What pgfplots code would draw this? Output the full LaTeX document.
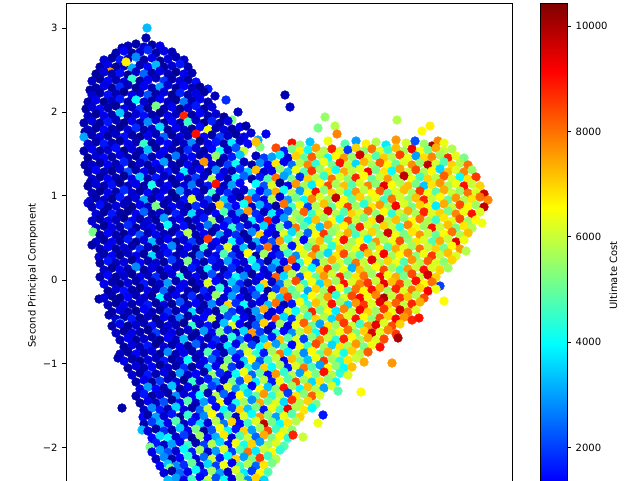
\documentclass[border=0pt]{standalone}
\usepackage{fontspec}
\setmainfont{DejaVu Sans}
\usepackage{pgfplots}
\pgfplotsset{compat=1.18}
\pgfplotsset{
  every tick label/.append style={font=\fontsize{7.2}{8.6}\selectfont},
  every axis label/.append style={font=\fontsize{7.2}{8.6}\selectfont},
}
\begin{document}
\begin{tikzpicture}
\begin{axis}[
  at={(0,0)}, anchor=south west,
  width=321.12pt, height=392.4pt, scale only axis,
  xmin=66, xmax=512, ymin=3, ymax=548, y dir=reverse,
  xtick=\empty,
  ytick={28.2,112,195.8,280,363.8,447.6},
  yticklabels={3,2,1,0,−1,−2},
  ytick pos=left,
  tick align=outside, major tick length=2.52pt,
  tick style={black, line width=0.58pt},
  axis line style={line width=0.58pt, black},
  ylabel={Second Principal Component},
  ylabel style={at={(axis description cs:0,0.5)}, anchor=center, yshift=23.8pt},
  colormap/jet,
  point meta min=0.97, point meta max=104.36,
  colorbar,
  colorbar/width=19.66pt,
  colorbar style={
    at={(parent axis.north east)}, anchor=north west, xshift=11.62pt,
    height=392.4pt,
    ytick={20,40,60,80,100}, yticklabels={2000,4000,6000,8000,10000},
    ytick pos=right,
    tick align=outside, major tick length=2.52pt,
    tick style={black, line width=0.58pt},
    axis line style={line width=0.58pt, black},
    ylabel={Ultimate Cost},
    ylabel style={at={(axis description cs:1,0.5)}, anchor=center, yshift=-33.1pt},
  },
  clip marker paths=true,
]
\addplot[scatter, only marks, mark=*, mark size=3.15pt, point meta=explicit,
  scatter/use mapped color={draw=mapped color, fill=mapped color},
  mark options={line width=0.3pt}]
  table[x=x, y=y, meta=c] {
x y c
147 28 33
146 38 6
122 48 6
128 46 7
136 44 5
144 47 10
152 45 4
160 46 12
116 53 6
124 51 14
132 53 4
140 52 9
148 50 18
156 53 5
164 51 11
172 52 7
104 60 9
112 58 4
120 60 16
128 59 7
136 57 28
144 60 5
152 58 12
160 61 3
168 59 10
176 57 6
184 60 8
100 67 5
108 65 12
116 67 3
124 66 8
132 68 31
140 65 6
148 67 14
156 65 33
164 67 4
172 66 9
180 64 16
188 67 5
126 62 67
110 72 76
96 74 4
104 72 10
112 74 6
120 73 15
128 75 3
136 72 8
144 74 24
152 73 5
160 71 11
168 74 7
176 72 3
184 74 13
192 73 6
92 81 8
100 79 3
108 81 14
116 80 6
124 82 9
132 79 45
140 81 4
148 80 12
156 78 7
164 81 19
172 79 5
180 81 10
188 80 4
196 82 15
96 88 5
104 86 11
112 88 4
120 87 18
128 85 7
136 88 3
144 86 13
152 88 6
160 87 30
168 85 9
176 88 4
184 86 14
192 88 7
200 87 3
208 89 16
90 90 4
92 95 9
100 93 4
108 95 15
116 94 6
124 92 3
132 95 12
140 93 7
148 95 22
156 94 5
164 92 10
172 95 3
180 93 17
188 95 6
196 94 11
204 92 4
88 102 6
96 100 12
104 102 3
112 101 8
120 99 16
128 102 5
136 100 40
144 102 9
152 101 4
160 99 14
168 102 7
176 100 3
184 102 26
192 101 6
200 99 12
208 102 5
226 100 18
215 96 7
86 109 4
92 107 9
100 109 14
108 108 5
116 106 3
124 109 11
132 107 7
140 109 18
148 108 4
156 106 52
164 109 6
172 107 13
180 109 3
188 108 9
196 106 16
204 109 5
212 107 10
88 116 7
96 114 3
104 116 12
112 115 6
120 113 34
128 116 4
136 114 9
144 116 15
152 115 5
160 113 3
168 116 11
176 114 7
184 116 88
192 115 4
200 113 14
208 116 6
216 114 9
224 117 3
232 120 52
238 112 8
84 123 5
92 121 10
100 123 4
108 122 16
116 120 7
124 123 3
132 121 12
140 123 6
148 122 28
156 120 9
164 123 4
172 121 14
180 123 5
188 122 45
196 120 8
204 123 3
212 121 17
220 123 6
228 121 11
88 130 8
96 128 4
104 130 13
112 129 6
120 127 3
128 130 10
136 128 18
144 130 5
152 129 9
160 127 36
168 130 4
176 128 12
184 130 7
192 129 3
200 127 15
208 130 64
216 128 6
224 130 10
232 129 4
240 127 13
246 126 5
251 133 9
85 132 5
84 137 31
92 135 6
100 137 11
108 136 4
116 134 8
124 137 15
132 135 5
140 137 3
148 136 12
156 134 7
164 137 24
172 135 4
180 137 10
188 136 6
196 134 90
204 137 14
212 135 5
220 137 20
228 136 8
236 134 4
244 137 12
285 95 6
290 107 8
258 140 30
266 134 12
292 143 90
260 147 52
88 144 9
96 142 5
104 144 16
112 143 7
120 141 3
128 144 12
136 142 6
144 144 45
152 143 4
160 141 10
168 144 14
176 142 5
184 144 8
192 143 28
200 141 3
208 144 11
216 142 16
224 144 6
232 143 38
240 141 9
248 144 14
256 142 72
300 145 55
310 142 34
318 128 52
325 117 55
335 126 58
337 134 78
328 141 64
345 144 48
356 141 30
366 144 67
376 142 58
386 145 38
397 120 58
396 140 76
406 143 61
415 141 22
422 131 66
430 126 67
432 146 100
438 141 78
424 144 55
444 143 64
84 151 6
92 149 12
100 151 4
108 150 9
116 148 15
124 151 3
132 149 10
140 151 6
148 150 33
156 148 4
164 151 13
172 149 7
180 151 3
188 150 18
196 148 9
204 151 5
212 149 14
220 151 40
228 150 8
236 148 22
244 151 60
276 148 84
284 151 16
292 149 52
300 151 67
308 150 41
316 148 75
324 151 58
332 149 88
340 151 62
348 150 20
356 148 70
364 151 54
372 149 80
380 151 63
388 150 46
396 148 72
404 151 57
412 149 93
420 151 66
428 150 52
436 148 74
444 151 60
452 149 58
88 158 3
96 156 9
104 158 14
112 157 5
120 155 11
128 158 7
136 156 4
144 158 19
152 157 6
160 155 12
168 158 3
176 156 26
184 158 8
192 157 14
200 155 5
208 158 10
216 156 55
224 158 7
232 157 16
240 155 34
256 156 7
264 158 20
272 157 30
280 155 38
288 158 9
296 156 70
304 158 50
312 157 82
320 155 59
328 158 40
336 156 66
344 158 76
352 157 55
360 155 96
368 158 62
376 156 48
384 158 71
392 157 58
400 155 85
408 158 64
416 156 30
424 158 69
432 157 78
440 155 56
448 158 88
456 156 63
464 158 52
85 165 5
92 165 8
100 163 4
108 165 12
116 164 6
124 162 17
132 165 3
140 163 9
148 165 5
156 164 14
164 162 30
172 165 7
180 163 4
188 165 12
196 164 6
204 162 76
212 165 10
220 163 4
228 165 20
236 164 41
244 162 8
252 165 5
260 163 28
268 165 14
276 164 68
284 162 12
292 165 25
300 163 58
308 165 78
316 164 44
324 162 64
332 165 52
340 163 90
348 165 60
356 164 36
364 162 73
372 165 57
380 163 82
388 165 66
396 164 50
404 162 62
412 165 77
420 163 55
428 165 98
436 164 61
444 162 48
452 165 70
460 163 58
468 165 80
88 172 5
96 170 14
104 172 7
112 171 3
120 169 10
128 172 22
136 170 6
144 172 12
152 171 4
160 169 9
168 172 16
176 170 5
184 172 38
192 171 8
200 169 13
208 172 4
216 170 28
224 172 10
232 171 6
240 169 18
248 172 35
256 170 72
264 172 9
272 171 12
280 169 55
288 172 33
296 170 64
304 172 48
312 171 86
320 169 56
328 172 68
336 170 42
344 172 74
352 171 59
360 169 63
368 172 92
376 170 52
384 172 68
392 171 40
400 169 75
408 172 60
416 170 84
424 172 57
432 171 66
440 169 36
448 172 72
456 170 62
464 172 78
472 170 55
92 179 9
100 177 4
108 179 13
116 178 6
124 176 3
132 179 11
140 177 34
148 179 5
156 178 16
164 176 8
172 179 4
180 177 12
188 179 6
196 178 20
204 176 9
212 179 58
220 177 14
228 179 5
236 178 38
244 176 24
252 179 4
260 177 16
268 179 48
276 178 80
284 176 30
292 179 52
300 177 18
308 179 70
316 178 58
324 176 45
332 179 80
340 177 62
348 179 54
356 178 88
364 176 66
372 179 50
380 177 60
388 179 76
396 178 55
404 176 98
412 179 64
420 177 46
428 179 70
436 178 58
444 176 82
452 179 61
460 177 40
468 179 68
476 177 86
90 183 6
88 186 4
96 184 10
104 186 6
112 185 15
120 183 3
128 186 8
136 184 12
144 186 5
152 185 42
160 183 7
168 186 14
176 184 4
184 186 10
192 185 26
200 183 6
208 186 16
216 184 90
224 186 8
232 185 30
240 183 14
256 184 40
264 186 22
272 185 62
280 183 3
288 186 12
296 184 76
304 186 56
312 185 38
320 183 66
328 186 84
336 184 57
344 186 72
352 185 48
360 183 62
368 186 78
376 184 54
384 186 94
392 185 66
400 183 58
408 186 72
416 184 52
424 186 34
432 185 68
440 183 76
448 186 57
456 184 64
464 186 90
472 184 60
480 186 70
92 193 7
100 191 3
108 193 12
116 192 5
124 190 18
132 193 9
140 191 4
148 193 14
156 192 6
164 190 11
172 193 3
180 191 28
188 193 8
196 192 13
204 190 5
212 193 45
220 191 10
228 193 18
236 192 9
244 190 9
252 193 36
260 191 14
268 193 28
276 192 74
284 190 41
292 193 58
300 191 30
308 193 64
316 192 90
324 190 54
332 193 70
340 191 60
348 193 44
356 192 76
364 190 59
372 193 66
380 191 82
388 193 50
396 192 62
404 190 72
412 193 56
420 191 86
428 193 64
436 192 48
444 190 74
452 193 60
460 191 55
468 193 80
476 192 62
484 194 96
90 201 12
96 198 5
104 200 9
112 199 3
120 197 16
128 200 6
136 198 10
144 200 31
152 199 4
160 197 13
168 200 7
176 198 3
184 200 15
192 199 62
200 197 8
208 200 20
216 198 4
224 200 34
232 199 12
240 197 5
248 200 84
256 198 20
264 200 12
272 199 58
280 197 10
288 200 30
296 198 52
304 200 40
312 199 78
320 197 62
328 200 56
336 198 98
344 200 66
352 199 50
360 197 70
368 200 58
376 198 64
384 200 46
392 199 80
400 197 61
408 200 54
416 198 72
424 200 88
432 199 60
440 197 66
448 200 50
456 198 76
464 200 58
472 199 68
480 197 80
488 200 78
88 203 9
92 207 6
100 205 15
108 207 4
116 206 10
124 204 7
132 207 3
140 205 12
148 207 8
156 206 52
164 204 5
172 207 14
180 205 9
188 207 4
196 206 18
204 204 11
212 207 6
220 205 70
228 207 25
236 206 14
244 204 41
252 207 8
260 205 32
268 207 16
276 206 4
284 204 80
292 207 46
300 205 64
308 207 20
316 206 58
324 204 72
332 207 50
340 205 64
348 207 86
356 206 56
364 204 44
372 207 68
380 205 76
388 207 57
396 206 92
404 204 62
412 207 52
420 205 70
428 207 64
436 206 38
444 204 74
452 207 60
460 205 84
468 207 66
476 205 56
484 207 98
96 214 10
104 212 4
112 214 16
120 213 6
128 211 3
136 214 12
144 212 24
152 214 5
160 213 9
168 211 4
176 214 17
184 212 7
192 214 36
200 213 10
208 211 5
216 214 14
224 212 48
232 214 9
240 213 30
248 211 76
256 214 18
264 212 7
272 214 38
280 213 15
288 211 24
296 214 56
304 212 82
312 214 45
320 213 62
328 211 94
336 214 58
344 212 48
352 214 70
360 213 62
368 211 80
376 214 54
384 212 66
392 214 44
400 213 60
408 211 74
416 214 57
424 212 88
432 214 62
440 213 70
448 211 52
456 214 78
464 212 64
472 214 90
480 212 62
92 221 9
100 219 5
108 221 12
116 220 7
124 218 3
132 221 14
140 219 5
148 221 10
156 220 4
164 218 30
172 221 8
180 219 12
188 221 3
196 220 9
204 218 16
212 221 55
220 219 6
228 221 20
236 220 12
244 218 6
252 221 38
260 219 16
268 221 90
276 220 10
284 218 30
292 221 60
300 219 52
308 221 38
316 220 72
324 218 56
332 221 66
340 219 42
348 221 84
356 220 60
364 218 52
372 221 68
380 219 100
388 221 58
396 220 72
404 218 54
412 221 66
420 219 80
428 221 58
436 220 46
444 218 68
452 221 62
460 219 84
468 221 56
476 220 66
482 223 64
96 228 8
104 226 3
112 228 11
120 227 6
128 225 18
136 228 4
144 226 9
152 228 13
160 227 5
168 225 40
176 228 7
184 226 15
192 228 4
200 227 10
208 225 26
216 228 8
224 226 14
232 228 45
240 227 20
248 225 9
256 228 10
264 226 36
272 228 14
280 227 52
288 225 18
296 228 80
304 226 48
312 228 62
320 227 34
328 225 76
336 228 58
344 226 66
352 228 50
360 227 88
368 225 62
376 228 54
384 226 70
392 228 60
400 227 44
408 225 78
416 228 64
424 226 56
432 228 90
440 227 60
448 225 72
456 228 52
464 226 68
472 228 58
93 232 52
100 235 4
108 233 14
116 235 6
124 234 3
132 232 10
140 235 22
148 233 5
156 235 12
164 234 7
172 232 4
180 235 16
188 233 58
196 235 6
204 234 13
212 232 4
220 235 30
228 233 10
236 235 18
244 234 4
252 232 28
260 235 70
268 233 14
276 235 8
284 234 62
292 232 36
300 235 56
308 233 24
316 235 66
324 234 86
332 232 54
340 235 62
348 233 74
356 235 46
364 234 60
372 232 70
380 235 56
388 233 96
396 235 64
404 234 52
412 232 68
420 235 76
428 233 60
436 235 50
444 234 66
452 232 80
460 235 58
468 233 72
96 242 9
104 240 4
112 242 12
120 241 5
128 239 16
136 242 3
144 240 10
152 242 33
160 241 6
168 239 13
176 242 4
184 240 9
192 242 20
200 241 5
208 239 86
216 242 14
224 240 8
232 242 40
240 241 16
248 239 5
256 242 32
264 240 16
272 242 22
280 241 76
288 239 44
296 242 60
304 240 14
312 242 58
320 241 72
328 239 48
336 242 64
344 240 90
352 242 56
360 241 66
368 239 40
376 242 76
384 240 58
392 242 64
400 241 84
408 239 54
416 242 68
424 240 62
432 242 48
440 241 74
448 239 60
456 242 94
464 240 64
92 245 5
100 249 6
108 247 13
116 249 4
124 248 9
132 246 5
140 249 18
148 247 7
156 249 3
164 248 11
172 246 28
180 249 6
188 247 14
196 249 4
204 248 45
212 246 10
220 249 18
228 247 62
236 249 9
244 248 34
252 246 6
260 249 20
268 247 80
276 249 10
284 248 58
292 246 16
300 249 66
308 247 50
316 249 82
324 248 60
332 246 44
340 249 70
348 247 58
356 249 64
364 248 88
372 246 54
380 249 68
388 247 48
396 249 74
404 248 62
412 246 56
420 249 80
428 247 60
436 249 70
444 248 52
452 246 66
460 249 76
466 251 58
99 257 10
104 254 5
112 256 14
120 255 3
128 253 8
136 256 12
144 254 4
152 256 36
160 255 7
168 253 15
176 256 5
184 254 10
192 256 3
200 255 24
208 253 7
216 256 12
224 254 48
232 256 20
240 255 9
248 253 66
256 256 5
264 254 56
272 256 12
280 255 18
288 253 46
296 256 28
304 254 62
312 256 76
320 255 52
328 253 36
336 256 68
344 254 84
352 256 58
360 255 46
368 253 72
376 256 62
384 254 92
392 256 56
400 255 66
408 253 78
416 256 54
424 254 64
432 256 86
440 255 60
448 253 72
456 256 62
100 263 4
108 261 16
116 263 7
124 262 10
132 260 3
140 263 14
148 261 6
156 263 9
164 262 4
172 260 20
180 263 8
188 261 52
196 263 12
204 262 5
212 260 16
220 263 9
228 261 30
236 263 14
244 262 9
252 260 42
260 263 18
268 261 4
276 263 34
284 262 12
292 260 84
300 263 44
308 261 66
316 263 20
324 262 58
332 260 74
340 263 62
348 261 50
356 263 80
364 262 60
372 260 94
380 263 58
388 261 70
396 263 64
404 262 48
412 260 76
420 263 58
428 261 82
436 263 62
444 262 54
452 260 70
104 270 8
112 268 3
120 270 12
128 269 6
136 267 28
144 270 4
152 268 11
160 270 5
168 269 14
176 267 7
184 270 3
192 268 16
200 270 6
208 269 38
216 267 10
224 270 5
232 268 18
240 270 6
248 269 12
256 267 36
264 270 10
272 268 26
280 270 5
288 269 78
296 267 14
304 270 56
312 268 40
320 270 70
328 269 86
336 267 54
344 270 64
352 268 32
360 270 72
368 269 58
376 267 66
384 270 84
392 268 56
400 270 46
408 269 76
416 267 60
424 270 90
432 268 62
440 270 70
448 268 56
100 277 5
108 275 14
116 277 4
124 276 9
132 274 3
140 277 12
148 275 7
156 277 18
164 276 4
172 274 10
180 277 44
188 275 6
196 277 13
204 276 4
212 274 22
220 277 8
228 275 16
236 277 40
244 276 28
252 274 4
260 277 14
268 275 9
276 277 82
284 276 36
292 274 58
300 277 22
308 275 66
316 277 50
324 276 76
332 274 60
340 277 88
348 275 54
356 277 68
364 276 80
372 274 56
380 277 92
388 275 64
396 277 74
404 276 52
412 274 84
420 277 60
428 275 96
436 277 70
104 284 12
112 282 6
120 284 3
128 283 10
136 281 5
144 284 16
152 282 4
160 284 8
168 283 30
176 281 6
184 284 12
192 282 3
200 284 9
208 283 62
216 281 14
224 284 6
232 282 34
240 284 18
248 283 5
256 281 10
264 284 70
272 282 8
280 284 26
288 283 58
296 281 84
304 284 46
312 282 64
320 284 36
328 283 72
336 281 56
344 284 90
352 282 62
360 284 78
368 283 86
376 281 60
384 284 94
392 282 72
400 284 84
408 283 58
416 281 90
424 284 66
432 282 80
440 286 20
108 291 4
116 289 9
124 291 15
132 290 5
140 288 3
148 291 11
156 289 6
164 291 24
172 290 4
180 288 13
188 291 7
196 289 3
204 291 17
212 290 8
220 288 44
228 291 12
236 289 26
244 291 7
252 290 16
260 288 38
268 291 4
276 289 20
284 291 76
292 290 48
300 288 60
308 291 30
316 289 70
324 291 56
332 290 94
340 288 64
348 291 48
356 289 80
364 291 66
372 290 90
380 288 74
388 291 56
396 289 88
404 291 62
412 290 80
420 288 70
428 291 92
436 289 64
99 299 5
104 298 10
112 296 5
120 298 3
128 297 14
136 295 6
144 298 9
152 296 4
160 298 40
168 297 7
176 295 12
184 298 4
192 296 18
200 298 6
208 297 11
216 295 55
224 298 9
232 296 30
240 298 14
248 297 6
256 295 24
264 298 9
272 296 62
280 298 34
288 297 86
296 295 52
304 298 40
312 296 66
320 298 58
328 297 76
336 295 44
344 298 62
352 296 84
360 298 92
368 297 64
376 295 78
384 298 100
392 296 60
400 298 86
408 297 72
416 295 58
424 298 84
108 305 7
116 303 3
124 305 12
132 304 5
140 302 9
148 305 16
156 303 4
164 305 10
172 304 3
180 302 22
188 305 8
196 303 14
204 305 5
212 304 28
220 302 10
228 305 70
236 303 18
244 305 40
252 304 8
260 302 12
268 305 34
276 303 80
284 305 6
292 304 16
300 302 64
308 305 46
316 303 72
324 305 60
332 304 90
340 302 56
348 305 36
356 303 76
364 305 86
372 304 62
380 302 94
388 305 70
396 303 82
404 305 60
412 304 88
420 302 74
444 301 66
109 315 6
112 312 4
120 310 11
128 312 6
136 311 3
144 309 13
152 312 7
160 310 4
168 312 18
176 311 5
184 309 10
192 312 36
200 310 6
208 312 12
216 311 4
224 309 48
232 312 20
240 310 10
248 312 5
256 311 30
264 309 74
272 312 9
280 310 14
288 312 62
296 311 40
304 309 56
312 312 88
320 310 52
328 312 66
336 311 38
344 309 78
352 312 60
360 310 92
368 312 70
376 311 56
384 309 86
392 312 64
400 310 96
408 312 80
416 310 62
116 319 9
124 317 5
132 319 16
140 318 4
148 316 8
156 319 3
164 317 12
172 319 6
180 318 26
188 316 4
196 319 10
204 317 14
212 319 60
220 318 8
228 316 22
236 319 40
244 317 12
252 319 6
260 318 28
268 316 10
276 319 84
284 317 36
292 319 18
300 318 60
308 316 46
316 319 70
324 317 58
332 319 36
340 318 80
348 316 62
356 319 90
364 317 66
372 319 54
380 318 84
388 316 70
396 319 92
404 317 76
412 320 88
419 318 90
120 323 33
112 326 5
120 324 12
128 326 3
136 325 9
144 323 6
152 326 15
160 324 4
168 326 10
176 325 7
184 323 3
192 326 45
200 324 8
208 326 16
216 325 5
224 323 34
232 326 62
240 324 14
248 326 4
256 325 22
264 323 70
272 326 12
280 324 56
288 326 10
296 325 64
304 323 82
312 326 50
320 324 30
328 326 68
336 325 56
344 323 86
352 326 60
360 324 46
368 326 76
376 325 94
384 323 62
392 326 84
400 324 70
116 333 8
124 331 4
132 333 11
140 332 6
148 330 3
156 333 20
164 331 7
172 333 12
180 332 4
188 330 9
196 333 5
204 331 30
212 333 12
220 332 52
228 330 18
236 333 9
244 331 36
252 333 76
260 332 20
268 330 6
276 333 44
284 331 14
292 333 28
300 332 58
308 330 72
316 333 40
324 331 90
332 333 56
340 332 64
348 330 80
356 333 52
364 331 70
372 333 96
380 332 62
388 330 78
396 334 86
120 340 6
128 338 13
136 340 4
144 339 9
152 337 5
160 340 3
168 338 14
176 340 7
184 339 33
192 337 4
200 340 11
208 338 6
216 340 18
224 339 8
232 337 44
240 340 26
248 338 12
256 340 5
264 339 34
272 337 16
280 340 72
288 338 48
296 340 62
304 339 20
312 337 54
320 340 78
328 338 60
336 340 44
344 339 88
352 337 66
360 340 56
368 338 74
376 340 62
384 339 84
398 338 100
124 347 4
132 345 10
140 347 6
148 346 16
156 344 3
164 347 9
172 345 5
180 347 12
188 346 4
196 344 24
204 347 7
212 345 14
220 347 5
228 346 38
236 344 12
244 347 55
252 345 20
260 347 40
268 346 70
276 344 30
284 347 50
292 345 14
300 347 64
308 346 46
316 344 84
324 347 56
332 345 36
340 347 68
348 346 58
356 344 76
364 347 52
372 345 64
380 347 90
120 354 8
128 352 4
136 354 14
144 353 6
152 351 10
160 354 3
168 352 28
176 354 7
184 353 12
192 351 5
200 354 9
208 352 48
216 354 16
224 353 6
232 351 30
240 354 20
248 352 62
256 354 44
264 353 16
272 351 56
280 354 80
288 352 38
296 354 58
304 353 28
312 351 66
320 354 50
328 352 74
336 354 62
344 353 42
352 351 70
360 354 58
368 352 82
118 358 6
124 361 12
132 359 5
140 361 3
148 360 10
156 358 7
164 361 16
172 359 4
180 361 9
188 360 40
196 358 6
204 361 13
212 359 24
220 361 8
228 360 52
236 358 14
244 361 36
252 359 66
260 361 22
268 360 46
276 358 60
284 361 12
292 359 72
300 361 52
308 360 34
316 358 64
324 361 86
332 359 56
340 361 44
348 360 68
356 358 60
364 362 74
392 363 76
128 368 4
136 366 10
144 368 6
152 367 14
160 365 3
168 368 8
176 366 5
184 368 18
192 367 4
200 365 10
208 368 34
216 366 12
224 368 58
232 367 20
240 365 9
248 368 44
256 366 28
264 368 70
272 367 40
280 365 56
288 368 16
296 366 62
304 368 80
312 367 48
320 365 30
328 368 66
336 366 54
344 368 40
352 367 72
132 375 9
140 373 4
148 375 16
156 374 6
164 372 11
172 375 3
180 373 30
188 375 8
196 374 14
204 372 5
212 375 55
220 373 18
228 375 10
236 374 40
244 372 64
252 375 24
260 373 50
268 375 14
276 374 76
284 372 45
292 375 58
300 373 30
308 375 66
316 374 52
324 372 90
332 375 58
340 373 44
348 375 62
136 382 5
144 380 12
152 382 4
160 381 20
168 379 7
176 382 10
184 380 3
192 382 45
200 381 9
208 379 16
216 382 30
224 380 8
232 382 52
240 381 22
248 379 70
256 382 38
264 380 58
272 382 16
280 381 64
288 379 48
296 382 84
304 380 56
312 382 36
320 381 68
328 379 54
336 382 40
361 392 66
140 389 10
148 387 30
156 389 14
164 388 6
172 386 34
180 389 4
188 387 12
196 389 7
204 388 50
212 386 20
220 389 10
228 387 62
236 389 28
244 388 44
252 386 14
260 389 66
268 387 34
276 389 54
284 388 90
292 386 56
300 389 40
308 387 72
316 389 58
324 388 30
332 386 62
338 391 48
136 396 6
144 394 16
152 396 4
160 395 10
168 393 5
176 396 28
184 394 9
192 396 14
200 395 40
208 393 6
216 396 58
224 394 24
232 396 12
240 395 66
248 393 36
256 396 50
264 394 76
272 396 44
280 395 60
288 393 20
296 396 68
304 394 54
312 396 82
320 395 62
140 403 4
148 401 12
156 403 7
164 402 22
172 400 3
180 403 14
188 401 48
196 403 8
204 402 30
212 400 16
220 403 64
228 401 10
236 403 42
244 402 56
252 400 28
260 403 74
268 401 50
276 403 62
284 402 36
292 400 86
300 403 58
308 401 70
316 404 52
323 415 16
318 423 64
122 408 5
144 410 8
152 408 28
160 410 16
168 409 6
176 407 36
184 410 10
192 408 5
200 410 24
208 409 60
216 407 14
224 410 40
232 408 20
240 410 70
248 409 34
256 407 52
264 410 16
272 408 64
280 410 46
288 409 94
296 407 58
304 410 68
312 408 40
143 417 14
148 415 5
156 417 30
164 416 9
172 414 16
180 417 4
188 415 45
196 417 12
204 416 28
212 414 66
220 417 18
228 415 50
236 417 8
244 416 62
252 414 40
260 417 76
268 415 54
276 417 30
284 416 64
292 414 48
300 417 70
144 424 6
152 422 20
160 424 33
168 423 12
176 421 48
184 424 7
192 422 16
200 424 36
208 423 10
216 421 58
224 424 26
232 422 70
240 424 14
248 423 46
256 421 62
264 424 98
272 422 52
280 424 40
288 423 68
296 421 58
142 430 33
148 431 10
156 429 4
164 431 18
172 430 6
180 428 34
188 431 12
196 429 52
204 431 5
212 430 22
220 428 64
228 431 40
236 429 16
244 431 70
252 430 30
260 428 56
268 431 84
276 429 46
284 431 62
292 430 54
303 437 60
152 438 14
160 436 36
168 438 40
176 437 9
184 435 20
192 438 4
200 436 56
208 438 14
216 437 32
224 435 68
232 438 10
240 436 48
248 438 60
256 437 24
264 435 74
272 438 52
280 436 66
288 438 44
293 435 88
151 446 5
156 443 16
164 445 8
172 444 30
180 442 12
188 445 46
196 443 6
204 445 20
212 444 58
220 442 36
228 445 14
236 443 64
244 445 42
252 444 70
260 442 30
268 445 56
276 443 62
284 446 48
150 447 52
152 452 12
160 450 30
168 452 22
176 451 9
184 449 40
192 452 16
200 450 56
208 452 8
216 451 30
224 449 62
232 452 20
240 450 48
248 452 80
256 451 38
264 449 60
272 452 66
280 450 44
156 459 8
164 457 28
172 459 5
180 458 14
188 456 44
196 459 10
204 457 24
212 459 60
220 458 16
228 456 40
236 459 70
244 457 30
252 459 52
260 458 86
268 456 46
276 459 58
160 466 14
168 464 34
176 466 28
184 465 18
192 463 50
200 466 9
208 464 36
216 466 20
224 465 64
232 463 12
240 466 46
248 464 58
256 466 24
264 465 68
272 463 52
170 468 52
164 473 10
172 471 4
180 473 24
188 472 12
196 470 40
204 473 16
212 471 56
220 473 30
228 472 8
236 470 62
244 473 38
252 471 20
260 473 66
268 472 48
168 480 33
176 478 30
184 480 12
192 479 46
200 477 14
208 480 60
216 478 22
224 480 40
232 479 10
240 477 56
248 480 28
256 478 70
264 480 36
172 487 14
180 485 8
188 487 36
196 486 20
204 484 50
212 487 12
220 485 64
228 487 30
236 486 16
244 484 58
252 487 42
260 485 24
};
\end{axis}
\pgfresetboundingbox
\path[use as bounding box] (-47.52pt,48.96pt) rectangle (404.64pt,394.56pt);
\end{tikzpicture}
\end{document}
